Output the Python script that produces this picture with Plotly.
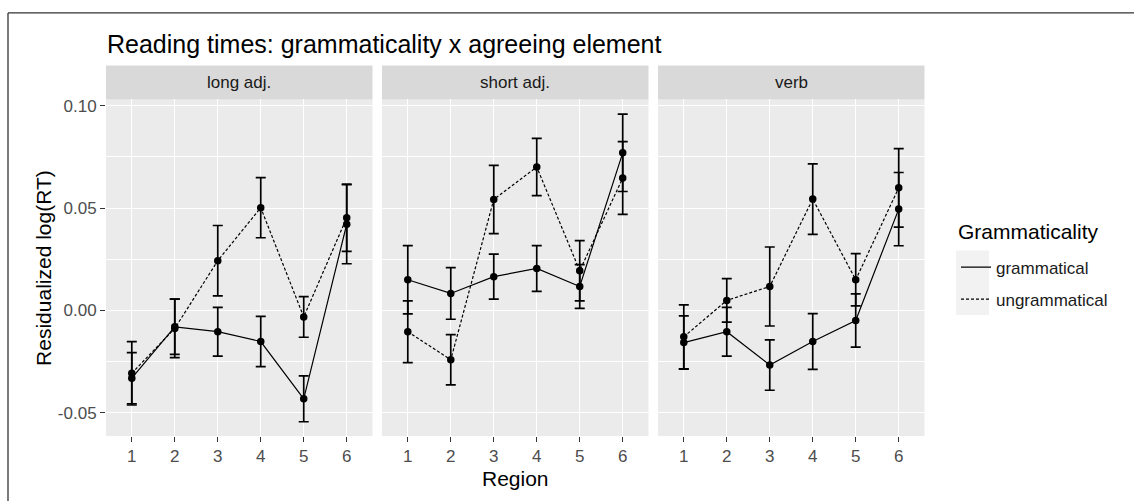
import plotly.graph_objects as go

# ---------------- data ----------------
regions = [1, 2, 3, 4, 5, 6]
region_labels = ["1", "2", "3", "4", "5", "6"]
panels = ["long adj.", "short adj.", "verb"]
conditions = ["grammatical", "ungrammatical"]

long_gram = [-0.0331, -0.0080, -0.0104, -0.0152, -0.0432, 0.0421]
long_gram_se = [0.0125, 0.0135, 0.0119, 0.0123, 0.0112, 0.0193]
long_ungram = [-0.0307, -0.0088, 0.0243, 0.0502, -0.0032, 0.0453]
long_ungram_se = [0.0155, 0.0143, 0.0172, 0.0147, 0.0099, 0.0164]

short_gram = [0.0150, 0.0083, 0.0165, 0.0205, 0.0117, 0.0770]
short_gram_se = [0.0167, 0.0126, 0.0110, 0.0112, 0.0107, 0.0189]
short_ungram = [-0.0104, -0.0241, 0.0542, 0.0701, 0.0194, 0.0647]
short_ungram_se = [0.0151, 0.0123, 0.0167, 0.0140, 0.0147, 0.0178]

verb_gram = [-0.0157, -0.0104, -0.0267, -0.0152, -0.0049, 0.0495]
verb_gram_se = [0.0130, 0.0119, 0.0123, 0.0136, 0.0130, 0.0179]
verb_ungram = [-0.0129, 0.0049, 0.0117, 0.0544, 0.0150, 0.0599]
verb_ungram_se = [0.0156, 0.0106, 0.0193, 0.0172, 0.0128, 0.0192]

y_tickvals = [-0.05, 0.0, 0.05, 0.10]
y_ticktext = ["-0.05", "0.00", "0.05", "0.10"]
y_minor = [-0.025, 0.025, 0.075]

title_text = "Reading times: grammaticality x agreeing element"
x_title = "Region"
y_title = "Residualized log(RT)"
legend_title = "Grammaticality"

series = {
    "long adj.": [(long_gram, long_gram_se), (long_ungram, long_ungram_se)],
    "short adj.": [(short_gram, short_gram_se), (short_ungram, short_ungram_se)],
    "verb": [(verb_gram, verb_gram_se), (verb_ungram, verb_ungram_se)],
}

# ---------------- layout helpers ----------------
W, H = 1134, 501
FONT = "Liberation Sans, Arial, sans-serif"


def px(x):
    return x / W


def py(y):
    return 1 - y / H


panel_px = [(106, 372.5), (382, 648.5), (658, 924.5)]
top_px, bottom_px = 97, 435.7
strip_top_px = 63
dashes = {"grammatical": "solid", "ungrammatical": "3px,2px"}

fig = go.Figure()

for i, panel in enumerate(panels):
    xa = "x" if i == 0 else f"x{i + 1}"
    ya = "y" if i == 0 else f"y{i + 1}"
    for cond, (vals, se) in zip(conditions, series[panel]):
        fig.add_trace(go.Scatter(
            x=regions, y=vals, mode="lines+markers",
            line=dict(color="black", width=1.2, dash=dashes[cond]),
            marker=dict(color="black", size=7.5),
            error_y=dict(type="data", array=se, visible=True,
                         color="black", thickness=1.7, width=5),
            name=cond, legendgroup=cond, showlegend=False,
            xaxis=xa, yaxis=ya,
        ))

for cond in conditions:
    fig.add_trace(go.Scatter(
        x=[None], y=[None], mode="lines",
        line=dict(color="black", width=1.3, dash=dashes[cond]),
        name=cond, legendgroup=cond, showlegend=True,
    ))

layout = dict(
    width=W, height=H,
    margin=dict(l=0, r=0, t=0, b=0),
    paper_bgcolor="white", plot_bgcolor="#ebebeb",
    font=dict(family=FONT, color="#4d4d4d"),
    title=dict(text=title_text, x=px(107), xanchor="left", xref="paper",
               y=py(42), yanchor="middle", yref="paper",
               font=dict(size=25, color="black", family=FONT)),
    legend=dict(
        font=dict(size=17, color="#1a1a1a"),
        x=px(956), xanchor="left", y=py(248), yanchor="top",
        bgcolor="rgba(0,0,0,0)", borderwidth=0,
        tracegroupgap=7, itemwidth=30,
    ),
    showlegend=True,
)

dom_y = [py(bottom_px), py(top_px)]
for i in range(3):
    sx = "xaxis" if i == 0 else f"xaxis{i + 1}"
    sy = "yaxis" if i == 0 else f"yaxis{i + 1}"
    ya = "y" if i == 0 else f"y{i + 1}"
    xa = "x" if i == 0 else f"x{i + 1}"
    layout[sx] = dict(
        domain=[px(panel_px[i][0]), px(panel_px[i][1])], anchor=ya,
        range=[0.4, 6.6], tickmode="array", tickvals=regions, ticktext=region_labels,
        showgrid=True, gridcolor="white", gridwidth=1.1, zeroline=False,
        ticks="outside", ticklen=5, tickwidth=1.1, tickcolor="#333333",
        tickfont=dict(size=17, color="#4d4d4d"), showline=False,
    )
    layout[sy] = dict(
        domain=dom_y, anchor=xa,
        range=[-0.0614, 0.1031], tickmode="array", tickvals=y_tickvals, ticktext=y_ticktext,
        showgrid=True, gridcolor="white", gridwidth=1.1, zeroline=False,
        minor=dict(tickmode="array", tickvals=y_minor, showgrid=True,
                   gridcolor="white", gridwidth=0.55),
        ticks="outside" if i == 0 else "", ticklen=5, tickwidth=1.1, tickcolor="#333333",
        showticklabels=(i == 0),
        tickfont=dict(size=17, color="#4d4d4d"), showline=False,
    )
    if i > 0:
        layout[sy]["matches"] = "y"

fig.update_layout(**layout)

shapes = []
annotations = []
for i, panel in enumerate(panels):
    x0, x1 = panel_px[i]
    shapes.append(dict(type="rect", xref="paper", yref="paper",
                       x0=px(x0), x1=px(x1), y0=py(top_px), y1=py(strip_top_px),
                       fillcolor="#d9d9d9", line=dict(width=0), layer="below"))
    annotations.append(dict(text=panel, xref="paper", yref="paper",
                            x=px((x0 + x1) / 2), y=py(80), showarrow=False,
                            xanchor="center", yanchor="middle",
                            font=dict(size=17, color="#1a1a1a", family=FONT)))

# legend key background
shapes.append(dict(type="rect", xref="paper", yref="paper",
                   x0=px(956), x1=px(989), y0=py(314), y1=py(249),
                   fillcolor="#f2f2f2", line=dict(width=0), layer="below"))
# outer border (top and left edges visible)
shapes.append(dict(type="line", xref="paper", yref="paper",
                   x0=px(8), x1=1.0, y0=py(10), y1=py(10),
                   line=dict(color="#333333", width=1.3)))
shapes.append(dict(type="line", xref="paper", yref="paper",
                   x0=px(8), x1=px(8), y0=py(10), y1=0.0,
                   line=dict(color="#333333", width=1.3)))

annotations.append(dict(text=legend_title, xref="paper", yref="paper",
                        x=px(956), y=py(230), showarrow=False,
                        xanchor="left", yanchor="middle",
                        font=dict(size=21, color="black", family=FONT)))
annotations.append(dict(text=y_title, xref="paper", yref="paper",
                        x=px(44), y=py(266.5), showarrow=False, textangle=-90,
                        xanchor="center", yanchor="middle",
                        font=dict(size=21, color="black", family=FONT)))
annotations.append(dict(text=x_title, xref="paper", yref="paper",
                        x=px(515), y=py(478), showarrow=False,
                        xanchor="center", yanchor="middle",
                        font=dict(size=21, color="black", family=FONT)))

fig.update_layout(shapes=shapes, annotations=annotations)
fig.write_html("out.html")
